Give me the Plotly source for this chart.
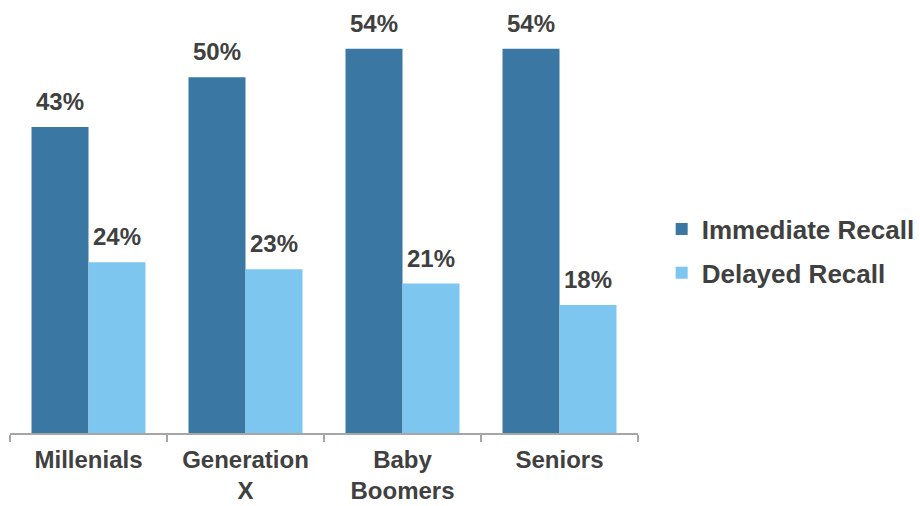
import plotly.graph_objects as go

categories = ["Millenials", "Generation<br>X", "Baby<br>Boomers", "Seniors"]
immediate = [43, 50, 54, 54]
delayed = [24, 23, 21, 18]
series_names = ["Immediate Recall", "Delayed Recall"]
colors = ["#3A77A3", "#7DC6F0"]

TEXT = "#404040"
FONT = "Liberation Sans, Arial, sans-serif"

fig = go.Figure()
for i, (name, vals, col) in enumerate(zip(series_names, [immediate, delayed], colors)):
    fig.add_trace(go.Bar(
        x=categories, y=vals, name=name, marker=dict(color=col, line=dict(width=0)),
        legendgroup=f"g{i}", hoverinfo="skip",
    ))

annotations = []
for vals, shift in [(immediate, -28.5), (delayed, 28.5)]:
    for c, v in zip(categories, vals):
        annotations.append(dict(
            x=c, y=v, xref="x", yref="y", text=f"<b>{v}%</b>", showarrow=False,
            xshift=shift, yanchor="bottom", yshift=10,
            font=dict(family=FONT, size=24, color=TEXT),
        ))

fig.update_layout(
    width=920, height=506,
    margin=dict(l=10, r=282, t=10, b=73, autoexpand=False),
    paper_bgcolor="white", plot_bgcolor="white",
    barmode="group", bargap=0.274, bargroupgap=0,
    font=dict(family=FONT, color=TEXT),
    annotations=annotations,
    showlegend=True,
    legend=dict(
        x=1.0377, y=0.43, xanchor="left", yanchor="middle",
        font=dict(family=FONT, size=26, color=TEXT, weight="bold"),
        tracegroupgap=7, bgcolor="rgba(0,0,0,0)",
    ),
    xaxis=dict(
        showgrid=False, showline=True, linecolor="#A6A6A6", linewidth=1.5,
        ticks="outside", tickson="boundaries", ticklen=7, tickcolor="#A6A6A6", tickwidth=1.5,
        tickfont=dict(family=FONT, size=24, color=TEXT, weight="bold"),
        ticklabelstandoff=4, automargin=False,
        fixedrange=True,
    ),
    yaxis=dict(
        range=[0, 59.44], visible=False, showgrid=False, zeroline=False, fixedrange=True,
    ),
)

fig.write_html(
    "out.html",
    config={"displayModeBar": False},
    post_script="document.body.style.margin='0';document.body.style.overflow='hidden';",
)
